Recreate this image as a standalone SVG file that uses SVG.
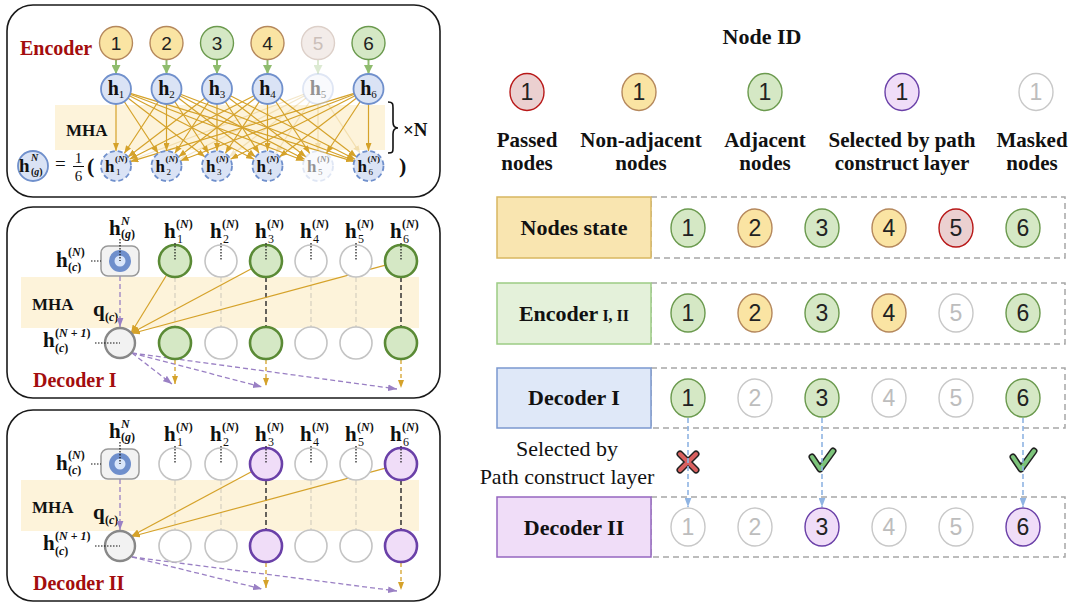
<svg xmlns="http://www.w3.org/2000/svg" width="1076" height="606" viewBox="0 0 1076 606">
<style>
.panel{fill:#fff;stroke:#1a1a1a;stroke-width:1.6}
.band{fill:#fdf3da}
.num{font-family:"Liberation Sans","DejaVu Sans",sans-serif;font-size:19px;fill:#222;text-anchor:middle}
.numR{font-size:23px}
.serifB{font-family:"Liberation Serif","DejaVu Serif",serif;font-weight:bold;fill:#111}
.serif{font-family:"Liberation Serif","DejaVu Serif",serif;fill:#111}
.dred{fill:#a30d0d}
.it{font-style:italic;font-weight:bold}
.rm{font-weight:normal;font-style:normal}
.yel{fill:#fae4a3;stroke:#b5885c;stroke-width:1.4}
.grn{fill:#d5e8c5;stroke:#6b9a4e;stroke-width:1.4}
.pas{fill:#ebd0d0;stroke:#b81818;stroke-width:1.4}
.pur{fill:#f0ddf8;stroke:#6a40a8;stroke-width:1.4}
.msk{fill:#fff;stroke:#c8c8c8;stroke-width:1.4}
.mskt{fill:#bdbdbd}
.blu{fill:#dae3f5;stroke:#7090cc;stroke-width:1.8}
.bluD{fill:#dae3f5;stroke:#7090cc;stroke-width:1.8;stroke-dasharray:5 3}
.grnD{fill:#d5e8c5;stroke:#5a8a35;stroke-width:2.6}
.purD{fill:#f0ddf8;stroke:#6a40a8;stroke-width:2.6}
.mskD{fill:#fff;stroke:#c4c4c4;stroke-width:1.6}
.yl{stroke:#d5a22a;stroke-width:1.2;fill:none;marker-end:url(#ay)}
.gl{stroke:#8fbc6e;stroke-width:2;fill:none;marker-end:url(#ag)}
.pd{stroke:#9a80c4;stroke-width:1.3;fill:none;stroke-dasharray:5 3;marker-end:url(#ap)}
.yd{stroke:#d5a22a;stroke-width:1.3;fill:none;stroke-dasharray:4 3;marker-end:url(#ay)}
.bd{stroke:#8fb4e3;stroke-width:1.6;fill:none;stroke-dasharray:5 3;marker-end:url(#ab)}
.dot{stroke:#111;stroke-width:1.2;stroke-dasharray:1.5 1.5;fill:none}
.vdk{stroke:#333;stroke-width:1.5;stroke-dasharray:5 3}
.vlt{stroke:#d6d0c0;stroke-width:1.2;stroke-dasharray:5 3}
.dash{fill:#fff;stroke:#a6a6a6;stroke-width:1.5;stroke-dasharray:6 4}
</style>
<defs>
<marker id="ay" viewBox="0 0 8 6" refX="8" refY="3" markerWidth="8" markerHeight="6" markerUnits="userSpaceOnUse" orient="auto"><path d="M0,0 L8,3 L0,6 z" fill="#d5a22a"/></marker>
<marker id="ag" viewBox="0 0 8 8" refX="8" refY="4" markerWidth="9" markerHeight="9" markerUnits="userSpaceOnUse" orient="auto"><path d="M0,0 L8,4 L0,8 z" fill="#8fbc6e"/></marker>
<marker id="ap" viewBox="0 0 8 6" refX="8" refY="3" markerWidth="9" markerHeight="7" markerUnits="userSpaceOnUse" orient="auto"><path d="M0,0 L8,3 L0,6 z" fill="#9a80c4"/></marker>
<marker id="ab" viewBox="0 0 8 6" refX="8" refY="3" markerWidth="9" markerHeight="7" markerUnits="userSpaceOnUse" orient="auto"><path d="M0,0 L8,3 L0,6 z" fill="#8fb4e3"/></marker>
</defs>

<!-- ============ Encoder panel ============ -->
<g id="encoder">
<rect class="panel" x="7" y="5" width="433" height="192" rx="26"/>
<rect class="band" x="55" y="105" width="330" height="45"/>
<text class="serifB dred" x="20" y="55" font-size="20">Encoder</text>
<text class="serifB" x="66" y="136" font-size="17">MHA</text>

<g id="enc-connectors">
<path class="gl" d="M116,60 V74"/><path class="gl" d="M166.5,60 V74"/><path class="gl" d="M217,60 V74"/>
<path class="gl" d="M267.5,60 V74"/><path class="gl" d="M318,60 V74" opacity="0.3"/><path class="gl" d="M368.5,60 V74"/>
<g id="attn-h1">
<path class="yl" d="M116,104 L116,151"/><path class="yl" d="M124.2,101.5 L158.3,153.5"/><path class="yl" d="M127.9,98.1 L205.1,156.9"/>
<path class="yl" d="M129.4,95.8 L254.1,159.2"/><path class="yl" d="M130,94.3 L304,160.7"/><path class="yl" d="M130.4,93.4 L354.1,161.6"/>
</g>
<g id="attn-h2">
<path class="yl" d="M158.3,101.5 L124.2,153.5"/><path class="yl" d="M166.5,104 L166.5,151"/><path class="yl" d="M174.7,101.5 L208.8,153.5"/>
<path class="yl" d="M178.4,98.1 L255.6,156.9"/><path class="yl" d="M179.9,95.8 L304.6,159.2"/><path class="yl" d="M180.5,94.3 L354.5,160.7"/>
</g>
<g id="attn-h3">
<path class="yl" d="M205.1,98.1 L127.9,156.9"/><path class="yl" d="M208.8,101.5 L174.7,153.5"/><path class="yl" d="M217,104 L217,151"/>
<path class="yl" d="M225.2,101.5 L259.3,153.5"/><path class="yl" d="M228.9,98.1 L306.1,156.9"/><path class="yl" d="M230.4,95.8 L355.1,159.2"/>
</g>
<g id="attn-h4">
<path class="yl" d="M254.1,95.8 L129.4,159.2"/><path class="yl" d="M255.6,98.1 L178.4,156.9"/><path class="yl" d="M259.3,101.5 L225.2,153.5"/>
<path class="yl" d="M267.5,104 L267.5,151"/><path class="yl" d="M275.7,101.5 L309.8,153.5"/><path class="yl" d="M279.4,98.1 L356.6,156.9"/>
</g>
<g id="attn-h5" opacity="0.25">
<path class="yl" d="M304,94.3 L130,160.7"/><path class="yl" d="M304.6,95.8 L179.9,159.2"/><path class="yl" d="M306.1,98.1 L228.9,156.9"/>
<path class="yl" d="M309.8,101.5 L275.7,153.5"/><path class="yl" d="M318,104 L318,151"/><path class="yl" d="M326.2,101.5 L360.3,153.5"/>
</g>
<g id="attn-h6">
<path class="yl" d="M354.1,93.4 L130.4,161.6"/><path class="yl" d="M354.5,94.3 L180.5,160.7"/><path class="yl" d="M355.1,95.8 L230.4,159.2"/>
<path class="yl" d="M356.6,98.1 L279.4,156.9"/><path class="yl" d="M360.3,101.5 L326.2,153.5"/><path class="yl" d="M368.5,104 L368.5,151"/>
</g>
</g>

<!-- input node ids -->
<g id="enc-in-1"><circle class="yel" cx="116" cy="43" r="16.5"/><text class="num" x="116" y="50">1</text></g>
<g id="enc-in-2"><circle class="yel" cx="166.5" cy="43" r="16.5"/><text class="num" x="166.5" y="50">2</text></g>
<g id="enc-in-3"><circle class="grn" cx="217" cy="43" r="16.5"/><text class="num" x="217" y="50">3</text></g>
<g id="enc-in-4"><circle class="yel" cx="267.5" cy="43" r="16.5"/><text class="num" x="267.5" y="50">4</text></g>
<g id="enc-in-5"><circle cx="318" cy="43" r="16.5" fill="#f3ece9" stroke="#ddd0c9" stroke-width="1.4"/><text class="num" x="318" y="50" style="fill:#cbbfb9">5</text></g>
<g id="enc-in-6"><circle class="grn" cx="368.5" cy="43" r="16.5"/><text class="num" x="368.5" y="50">6</text></g>

<!-- embeddings h_i -->
<g id="enc-h1"><circle class="blu" cx="116" cy="89" r="15"/><text class="serifB" x="116" y="95" font-size="20" text-anchor="middle">h<tspan class="rm" font-size="11" dy="3">1</tspan></text></g>
<g id="enc-h2"><circle class="blu" cx="166.5" cy="89" r="15"/><text class="serifB" x="166.5" y="95" font-size="20" text-anchor="middle">h<tspan class="rm" font-size="11" dy="3">2</tspan></text></g>
<g id="enc-h3"><circle class="blu" cx="217" cy="89" r="15"/><text class="serifB" x="217" y="95" font-size="20" text-anchor="middle">h<tspan class="rm" font-size="11" dy="3">3</tspan></text></g>
<g id="enc-h4"><circle class="blu" cx="267.5" cy="89" r="15"/><text class="serifB" x="267.5" y="95" font-size="20" text-anchor="middle">h<tspan class="rm" font-size="11" dy="3">4</tspan></text></g>
<g id="enc-h5" opacity="0.45"><circle cx="318" cy="89" r="15" fill="#f3f6fc" stroke="#b9c8e8" stroke-width="1.8"/><text class="serifB" x="318" y="95" font-size="20" text-anchor="middle">h<tspan class="rm" font-size="11" dy="3">5</tspan></text></g>
<g id="enc-h6"><circle class="blu" cx="368.5" cy="89" r="15"/><text class="serifB" x="368.5" y="95" font-size="20" text-anchor="middle">h<tspan class="rm" font-size="11" dy="3">6</tspan></text></g>

<!-- outputs h_i^(N) -->
<g id="enc-hn1"><circle class="bluD" cx="116" cy="166" r="15"/><text class="serifB" x="105" y="172" font-size="17">h</text><text class="serifB" x="115" y="162" font-size="9">(<tspan class="it">N</tspan>)</text><text class="serif" x="116" y="175" font-size="9">1</text></g>
<g id="enc-hn2"><circle class="bluD" cx="166.5" cy="166" r="15"/><text class="serifB" x="155.5" y="172" font-size="17">h</text><text class="serifB" x="165.5" y="162" font-size="9">(<tspan class="it">N</tspan>)</text><text class="serif" x="166.5" y="175" font-size="9">2</text></g>
<g id="enc-hn3"><circle class="bluD" cx="217" cy="166" r="15"/><text class="serifB" x="206" y="172" font-size="17">h</text><text class="serifB" x="216" y="162" font-size="9">(<tspan class="it">N</tspan>)</text><text class="serif" x="217" y="175" font-size="9">3</text></g>
<g id="enc-hn4"><circle class="bluD" cx="267.5" cy="166" r="15"/><text class="serifB" x="256.5" y="172" font-size="17">h</text><text class="serifB" x="266.5" y="162" font-size="9">(<tspan class="it">N</tspan>)</text><text class="serif" x="267.5" y="175" font-size="9">4</text></g>
<g id="enc-hn5" opacity="0.45"><circle cx="318" cy="166" r="15" fill="#f3f6fc" stroke="#b9c8e8" stroke-width="1.8" stroke-dasharray="5 3"/><text class="serifB" x="307" y="172" font-size="17">h</text><text class="serifB" x="317" y="162" font-size="9">(<tspan class="it">N</tspan>)</text><text class="serif" x="318" y="175" font-size="9">5</text></g>
<g id="enc-hn6"><circle class="bluD" cx="368.5" cy="166" r="15"/><text class="serifB" x="357.5" y="172" font-size="17">h</text><text class="serifB" x="367.5" y="162" font-size="9">(<tspan class="it">N</tspan>)</text><text class="serif" x="368.5" y="175" font-size="9">6</text></g>

<!-- graph embedding = mean of outputs -->
<g id="enc-hg"><circle class="blu" cx="33" cy="166" r="15"/><text class="serifB" x="19" y="172" font-size="19">h</text><text class="serifB it" x="31" y="161" font-size="10">N</text><text class="serifB" x="31" y="175" font-size="10">(<tspan class="it">g</tspan>)</text></g>
<text class="serif" x="55" y="170" font-size="19">=</text>
<text class="serif" x="78.5" y="163" font-size="15" text-anchor="middle">1</text>
<line x1="73" y1="166.5" x2="84" y2="166.5" stroke="#111" stroke-width="1"/>
<text class="serif" x="78.5" y="181" font-size="15" text-anchor="middle">6</text>
<text class="serifB" x="87" y="173" font-size="22">(</text>
<text class="serifB" x="399" y="173" font-size="22">)</text>
<path d="M388,102 C393,102 393,104 393,108 L393,122 C393,126 394,128 398,128 C394,128 393,130 393,134 L393,148 C393,152 393,153 388,153" stroke="#111" stroke-width="1.6" fill="none"/>
<text class="serifB" x="403" y="136" font-size="19">×N</text>
</g>

<!-- ============ Decoder I panel ============ -->
<g id="decoder-1">
<rect class="panel" x="7" y="207" width="433" height="191" rx="26"/>
<rect class="band" x="21" y="277" width="398" height="51"/>
<text class="serifB" x="32" y="310" font-size="17">MHA</text>
<text class="serifB dred" x="33" y="387" font-size="20">Decoder I</text>

<!-- column labels -->
<g id="d1-labels">
<text class="serifB" x="109" y="235" font-size="21">h</text><text class="serifB it" x="121" y="225" font-size="12">N</text><text class="serifB" x="121" y="238" font-size="12">(<tspan class="it">g</tspan>)</text>
<text class="serifB" x="164" y="238" font-size="21">h</text><text class="serifB" x="176" y="228" font-size="12">(<tspan class="it">N</tspan>)</text><text class="serif" x="177" y="243" font-size="12">1</text>
<text class="serifB" x="210" y="238" font-size="21">h</text><text class="serifB" x="222" y="228" font-size="12">(<tspan class="it">N</tspan>)</text><text class="serif" x="223" y="243" font-size="12">2</text>
<text class="serifB" x="255" y="238" font-size="21">h</text><text class="serifB" x="267" y="228" font-size="12">(<tspan class="it">N</tspan>)</text><text class="serif" x="268" y="243" font-size="12">3</text>
<text class="serifB" x="300" y="238" font-size="21">h</text><text class="serifB" x="312" y="228" font-size="12">(<tspan class="it">N</tspan>)</text><text class="serif" x="313" y="243" font-size="12">4</text>
<text class="serifB" x="345" y="238" font-size="21">h</text><text class="serifB" x="357" y="228" font-size="12">(<tspan class="it">N</tspan>)</text><text class="serif" x="358" y="243" font-size="12">5</text>
<text class="serifB" x="390" y="238" font-size="21">h</text><text class="serifB" x="402" y="228" font-size="12">(<tspan class="it">N</tspan>)</text><text class="serif" x="403" y="243" font-size="12">6</text>
<text class="serifB" x="56" y="267" font-size="21">h</text><text class="serifB" x="68" y="256" font-size="12">(<tspan class="it">N</tspan>)</text><text class="serifB" x="68" y="271" font-size="12">(<tspan class="it">c</tspan>)</text>
<text class="serifB" x="93" y="316" font-size="21">q</text><text class="serifB" x="105" y="321" font-size="12">(<tspan class="it">c</tspan>)</text>
<text class="serifB" x="43" y="347" font-size="21">h</text><text class="serifB" x="55" y="337" font-size="12">(<tspan class="it">N</tspan> + <tspan class="it">1</tspan>)</text><text class="serifB" x="55" y="352" font-size="12">(<tspan class="it">c</tspan>)</text>
</g>

<g id="d1-connectors">
<line class="vlt" x1="175" y1="277" x2="175" y2="327"/>
<line class="vlt" x1="221" y1="277" x2="221" y2="327"/>
<line class="vdk" x1="266" y1="277" x2="266" y2="327"/>
<line class="vlt" x1="311" y1="277" x2="311" y2="327"/>
<line class="vlt" x1="356" y1="277" x2="356" y2="327"/>
<line class="vdk" x1="401" y1="277" x2="401" y2="327"/>
<path class="pd" d="M120,276 V327"/>
<path class="yl" d="M166.8,274.7 L131,333"/>
<path class="yl" d="M251.9,268.5 L131.5,333"/>
<path class="yl" d="M385.5,265.1 L132,333.5"/>
<path class="pd" d="M132,353 L172,384"/>
<path class="pd" d="M132,353 L262,387"/>
<path class="pd" d="M132,353 L397,389"/>
<path class="yd" d="M175,360 V384"/>
<path class="yd" d="M266,360 V386"/>
<path class="yd" d="M401,360 V388"/>
</g>

<g id="d1-context"><rect x="101" y="246" width="38" height="30" rx="7" fill="#f2f2f2" stroke="#999" stroke-width="1.5"/><circle cx="120" cy="261" r="11" fill="#6f8fcc"/><circle cx="120" cy="261" r="5.5" fill="#dae6fa"/></g>
<g id="d1-u1"><circle class="grnD" cx="175" cy="261" r="16"/></g>
<g id="d1-u2"><circle class="mskD" cx="221" cy="261" r="16"/></g>
<g id="d1-u3"><circle class="grnD" cx="266" cy="261" r="16"/></g>
<g id="d1-u4"><circle class="mskD" cx="311" cy="261" r="16"/></g>
<g id="d1-u5"><circle class="mskD" cx="356" cy="261" r="16"/></g>
<g id="d1-u6"><circle class="grnD" cx="401" cy="261" r="16"/></g>
<g id="d1-q"><circle cx="120" cy="343" r="15" fill="#f2f2f2" stroke="#888" stroke-width="2.4"/></g>
<g id="d1-l1"><circle class="grnD" cx="175" cy="343" r="16"/></g>
<g id="d1-l2"><circle class="mskD" cx="221" cy="343" r="16"/></g>
<g id="d1-l3"><circle class="grnD" cx="266" cy="343" r="16"/></g>
<g id="d1-l4"><circle class="mskD" cx="311" cy="343" r="16"/></g>
<g id="d1-l5"><circle class="mskD" cx="356" cy="343" r="16"/></g>
<g id="d1-l6"><circle class="grnD" cx="401" cy="343" r="16"/></g>

<g id="d1-leaders">
<path class="dot" d="M120,239 V261 M175,243 V261 M221,243 V261 M266,243 V261 M311,243 V261 M356,243 V261 M401,243 V261 M91,261 H101 M95,343 H120"/>
</g>
</g>

<!-- ============ Decoder II panel ============ -->
<g id="decoder-2" transform="translate(0,203)">
<rect class="panel" x="7" y="207" width="433" height="191" rx="26"/>
<rect class="band" x="21" y="277" width="398" height="51"/>
<text class="serifB" x="32" y="310" font-size="17">MHA</text>
<text class="serifB dred" x="33" y="387" font-size="20">Decoder II</text>

<g id="d2-labels">
<text class="serifB" x="109" y="235" font-size="21">h</text><text class="serifB it" x="121" y="225" font-size="12">N</text><text class="serifB" x="121" y="238" font-size="12">(<tspan class="it">g</tspan>)</text>
<text class="serifB" x="164" y="238" font-size="21">h</text><text class="serifB" x="176" y="228" font-size="12">(<tspan class="it">N</tspan>)</text><text class="serif" x="177" y="243" font-size="12">1</text>
<text class="serifB" x="210" y="238" font-size="21">h</text><text class="serifB" x="222" y="228" font-size="12">(<tspan class="it">N</tspan>)</text><text class="serif" x="223" y="243" font-size="12">2</text>
<text class="serifB" x="255" y="238" font-size="21">h</text><text class="serifB" x="267" y="228" font-size="12">(<tspan class="it">N</tspan>)</text><text class="serif" x="268" y="243" font-size="12">3</text>
<text class="serifB" x="300" y="238" font-size="21">h</text><text class="serifB" x="312" y="228" font-size="12">(<tspan class="it">N</tspan>)</text><text class="serif" x="313" y="243" font-size="12">4</text>
<text class="serifB" x="345" y="238" font-size="21">h</text><text class="serifB" x="357" y="228" font-size="12">(<tspan class="it">N</tspan>)</text><text class="serif" x="358" y="243" font-size="12">5</text>
<text class="serifB" x="390" y="238" font-size="21">h</text><text class="serifB" x="402" y="228" font-size="12">(<tspan class="it">N</tspan>)</text><text class="serif" x="403" y="243" font-size="12">6</text>
<text class="serifB" x="56" y="267" font-size="21">h</text><text class="serifB" x="68" y="256" font-size="12">(<tspan class="it">N</tspan>)</text><text class="serifB" x="68" y="271" font-size="12">(<tspan class="it">c</tspan>)</text>
<text class="serifB" x="93" y="316" font-size="21">q</text><text class="serifB" x="105" y="321" font-size="12">(<tspan class="it">c</tspan>)</text>
<text class="serifB" x="43" y="347" font-size="21">h</text><text class="serifB" x="55" y="337" font-size="12">(<tspan class="it">N</tspan> + <tspan class="it">1</tspan>)</text><text class="serifB" x="55" y="352" font-size="12">(<tspan class="it">c</tspan>)</text>
</g>

<g id="d2-connectors">
<line class="vlt" x1="175" y1="277" x2="175" y2="327"/>
<line class="vlt" x1="221" y1="277" x2="221" y2="327"/>
<line class="vdk" x1="266" y1="277" x2="266" y2="327"/>
<line class="vlt" x1="311" y1="277" x2="311" y2="327"/>
<line class="vlt" x1="356" y1="277" x2="356" y2="327"/>
<line class="vdk" x1="401" y1="277" x2="401" y2="327"/>
<path class="pd" d="M120,276 V327"/>
<path class="yl" d="M251.9,268.5 L131.5,333"/>
<path class="yl" d="M385.5,265.1 L132,333.5"/>
<path class="pd" d="M132,354 L262,386"/>
<path class="pd" d="M132,354 L397,388"/>
<path class="yd" d="M266,360 V385"/>
<path class="yd" d="M401,360 V387"/>
</g>

<g id="d2-context"><rect x="101" y="246" width="38" height="30" rx="7" fill="#f2f2f2" stroke="#999" stroke-width="1.5"/><circle cx="120" cy="261" r="11" fill="#6f8fcc"/><circle cx="120" cy="261" r="5.5" fill="#dae6fa"/></g>
<g id="d2-u1"><circle class="mskD" cx="175" cy="261" r="16"/></g>
<g id="d2-u2"><circle class="mskD" cx="221" cy="261" r="16"/></g>
<g id="d2-u3"><circle class="purD" cx="266" cy="261" r="16"/></g>
<g id="d2-u4"><circle class="mskD" cx="311" cy="261" r="16"/></g>
<g id="d2-u5"><circle class="mskD" cx="356" cy="261" r="16"/></g>
<g id="d2-u6"><circle class="purD" cx="401" cy="261" r="16"/></g>
<g id="d2-q"><circle cx="120" cy="343" r="15" fill="#f2f2f2" stroke="#888" stroke-width="2.4"/></g>
<g id="d2-l1"><circle class="mskD" cx="175" cy="343" r="16"/></g>
<g id="d2-l2"><circle class="mskD" cx="221" cy="343" r="16"/></g>
<g id="d2-l3"><circle class="purD" cx="266" cy="343" r="16"/></g>
<g id="d2-l4"><circle class="mskD" cx="311" cy="343" r="16"/></g>
<g id="d2-l5"><circle class="mskD" cx="356" cy="343" r="16"/></g>
<g id="d2-l6"><circle class="purD" cx="401" cy="343" r="16"/></g>

<g id="d2-leaders">
<path class="dot" d="M120,239 V261 M175,243 V261 M221,243 V261 M266,243 V261 M311,243 V261 M356,243 V261 M401,243 V261 M91,261 H101 M95,343 H120"/>
</g>
</g>

<!-- ============ Legend ============ -->
<g id="legend">
<text class="serifB" x="762" y="44" font-size="22" text-anchor="middle">Node ID</text>
<g id="lg-passed"><ellipse class="pas" cx="527" cy="92" rx="17" ry="18.5"/><text class="num numR" x="527" y="100">1</text>
<text class="serifB" x="527" y="147" font-size="21" text-anchor="middle">Passed</text><text class="serifB" x="527" y="170" font-size="21" text-anchor="middle">nodes</text></g>
<g id="lg-nonadj"><ellipse class="yel" cx="639" cy="92" rx="17" ry="18.5"/><text class="num numR" x="639" y="100">1</text>
<text class="serifB" x="641" y="147" font-size="21" text-anchor="middle">Non-adjacent</text><text class="serifB" x="641" y="170" font-size="21" text-anchor="middle">nodes</text></g>
<g id="lg-adj"><ellipse class="grn" cx="765" cy="92" rx="17" ry="18.5"/><text class="num numR" x="765" y="100">1</text>
<text class="serifB" x="765" y="147" font-size="21" text-anchor="middle">Adjacent</text><text class="serifB" x="765" y="170" font-size="21" text-anchor="middle">nodes</text></g>
<g id="lg-selected"><ellipse class="pur" cx="902" cy="92" rx="17" ry="18.5"/><text class="num numR" x="902" y="100">1</text>
<text class="serifB" x="902" y="147" font-size="21" text-anchor="middle">Selected by path</text><text class="serifB" x="902" y="170" font-size="21" text-anchor="middle">construct layer</text></g>
<g id="lg-masked"><ellipse class="msk" cx="1036" cy="92" rx="17" ry="18.5"/><text class="num numR mskt" x="1036" y="100">1</text>
<text class="serifB" x="1032" y="147" font-size="21" text-anchor="middle">Masked</text><text class="serifB" x="1032" y="170" font-size="21" text-anchor="middle">nodes</text></g>
</g>

<!-- ============ State rows ============ -->
<g id="row-state">
<rect class="dash" x="651" y="197" width="414" height="61"/>
<rect x="497" y="197" width="154" height="61" fill="#f9e5b0" stroke="#d8b760" stroke-width="1.5"/>
<text class="serifB" x="574" y="235" font-size="22" text-anchor="middle">Nodes state</text>
<g id="st-1"><ellipse class="grn" cx="688" cy="228" rx="17" ry="19"/><text class="num numR" x="688" y="236">1</text></g>
<g id="st-2"><ellipse class="yel" cx="755" cy="228" rx="17" ry="19"/><text class="num numR" x="755" y="236">2</text></g>
<g id="st-3"><ellipse class="grn" cx="822" cy="228" rx="17" ry="19"/><text class="num numR" x="822" y="236">3</text></g>
<g id="st-4"><ellipse class="yel" cx="889" cy="228" rx="17" ry="19"/><text class="num numR" x="889" y="236">4</text></g>
<g id="st-5"><ellipse class="pas" cx="956" cy="228" rx="17" ry="19"/><text class="num numR" x="956" y="236">5</text></g>
<g id="st-6"><ellipse class="grn" cx="1023" cy="228" rx="17" ry="19"/><text class="num numR" x="1023" y="236">6</text></g>
</g>

<g id="row-encoder">
<rect class="dash" x="651" y="283" width="414" height="61"/>
<rect x="497" y="283" width="154" height="61" fill="#e4f1da" stroke="#9ccc84" stroke-width="1.5"/>
<text class="serifB" x="574" y="321" font-size="22" text-anchor="middle">Encoder<tspan font-size="16"> I, II</tspan></text>
<g id="en-1"><ellipse class="grn" cx="688" cy="313" rx="17" ry="19"/><text class="num numR" x="688" y="321">1</text></g>
<g id="en-2"><ellipse class="yel" cx="755" cy="313" rx="17" ry="19"/><text class="num numR" x="755" y="321">2</text></g>
<g id="en-3"><ellipse class="grn" cx="822" cy="313" rx="17" ry="19"/><text class="num numR" x="822" y="321">3</text></g>
<g id="en-4"><ellipse class="yel" cx="889" cy="313" rx="17" ry="19"/><text class="num numR" x="889" y="321">4</text></g>
<g id="en-5"><ellipse class="msk" cx="956" cy="313" rx="17" ry="19"/><text class="num numR mskt" x="956" y="321">5</text></g>
<g id="en-6"><ellipse class="grn" cx="1023" cy="313" rx="17" ry="19"/><text class="num numR" x="1023" y="321">6</text></g>
</g>

<g id="row-decoder-1">
<rect class="dash" x="651" y="368" width="414" height="60"/>
<rect x="497" y="368" width="154" height="60" fill="#dfe8f8" stroke="#7b98cf" stroke-width="1.5"/>
<text class="serifB" x="574" y="405" font-size="22" text-anchor="middle">Decoder I</text>
<g id="de1-1"><ellipse class="grn" cx="688" cy="398" rx="17" ry="19"/><text class="num numR" x="688" y="406">1</text></g>
<g id="de1-2"><ellipse class="msk" cx="755" cy="398" rx="17" ry="19"/><text class="num numR mskt" x="755" y="406">2</text></g>
<g id="de1-3"><ellipse class="grn" cx="822" cy="398" rx="17" ry="19"/><text class="num numR" x="822" y="406">3</text></g>
<g id="de1-4"><ellipse class="msk" cx="889" cy="398" rx="17" ry="19"/><text class="num numR mskt" x="889" y="406">4</text></g>
<g id="de1-5"><ellipse class="msk" cx="956" cy="398" rx="17" ry="19"/><text class="num numR mskt" x="956" y="406">5</text></g>
<g id="de1-6"><ellipse class="grn" cx="1023" cy="398" rx="17" ry="19"/><text class="num numR" x="1023" y="406">6</text></g>
</g>

<g id="row-decoder-2">
<rect class="dash" x="651" y="497" width="414" height="60"/>
<rect x="497" y="497" width="154" height="60" fill="#f0ddf8" stroke="#9566c0" stroke-width="1.5"/>
<text class="serifB" x="574" y="535" font-size="22" text-anchor="middle">Decoder II</text>
<g id="de2-1"><ellipse class="msk" cx="688" cy="527" rx="17" ry="19"/><text class="num numR mskt" x="688" y="535">1</text></g>
<g id="de2-2"><ellipse class="msk" cx="755" cy="527" rx="17" ry="19"/><text class="num numR mskt" x="755" y="535">2</text></g>
<g id="de2-3"><ellipse class="pur" cx="822" cy="527" rx="17" ry="19"/><text class="num numR" x="822" y="535">3</text></g>
<g id="de2-4"><ellipse class="msk" cx="889" cy="527" rx="17" ry="19"/><text class="num numR mskt" x="889" y="535">4</text></g>
<g id="de2-5"><ellipse class="msk" cx="956" cy="527" rx="17" ry="19"/><text class="num numR mskt" x="956" y="535">5</text></g>
<g id="de2-6"><ellipse class="pur" cx="1023" cy="527" rx="17" ry="19"/><text class="num numR" x="1023" y="535">6</text></g>
</g>

<!-- path construct layer selection -->
<g id="selection">
<text class="serif" x="567" y="456" font-size="22" text-anchor="middle">Selected by</text>
<text class="serif" x="567" y="484" font-size="22" text-anchor="middle">Path construct layer</text>
<g id="mark-1"><path d="M680,454 L696,470 M696,454 L680,470" stroke="#222" stroke-width="7" stroke-linecap="round" fill="none"/><path d="M680,454 L696,470 M696,454 L680,470" stroke="#d9605f" stroke-width="4" stroke-linecap="round" fill="none"/></g>
<g id="mark-3"><polyline points="812,457 820,469 833,451" stroke="#222" stroke-width="7" stroke-linecap="round" stroke-linejoin="round" fill="none"/><polyline points="812,457 820,469 833,451" stroke="#7cc47a" stroke-width="4" stroke-linecap="round" stroke-linejoin="round" fill="none"/></g>
<g id="mark-6"><polyline points="1013,457 1021,469 1034,451" stroke="#222" stroke-width="7" stroke-linecap="round" stroke-linejoin="round" fill="none"/><polyline points="1013,457 1021,469 1034,451" stroke="#7cc47a" stroke-width="4" stroke-linecap="round" stroke-linejoin="round" fill="none"/></g>
</g>

<g id="row-connectors">
<path class="bd" d="M688,418 V507"/>
<path class="bd" d="M822,418 V507"/>
<path class="bd" d="M1023,418 V507"/>
</g>
</svg>
